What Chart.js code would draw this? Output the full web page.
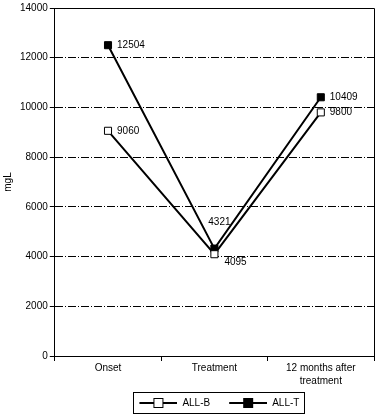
<!DOCTYPE html>
<html>
<head>
<meta charset="utf-8">
<script src="https://cdn.jsdelivr.net/npm/chart.js@4.4.1/dist/chart.umd.min.js"></script>
<style>
  html, body { margin: 0; padding: 0; background: #fff; }
  #wrap { width: 383px; height: 418px; }
</style>
</head>
<body>
<div id="wrap"><canvas id="chart"></canvas></div>
<script>
// data
var categories = ['Onset', 'Treatment', ['12 months after', 'treatment']];
var allB = [9060, 4095, 9800];
var allT = [12504, 4321, 10409];
var yMin = 0;
var yMax = 14000;
var yStep = 2000;

Chart.defaults.font.family = '"Liberation Sans", Arial, sans-serif';
Chart.defaults.font.size = 10;
Chart.defaults.color = '#000';

// little line + square picture for the legend (10px blank on the left as spacing)
var MARK_GAP = 10;
function legendMark(filled) {
  var c = document.createElement('canvas');
  c.width = 38 + MARK_GAP; c.height = 12;
  var g = c.getContext('2d');
  g.strokeStyle = '#000';
  g.lineWidth = 2;
  g.beginPath(); g.moveTo(MARK_GAP, 6); g.lineTo(MARK_GAP + 38, 6); g.stroke();
  g.fillStyle = filled ? '#000' : '#fff';
  g.fillRect(MARK_GAP + 14, 1, 10, 10);
  g.lineWidth = 1;
  g.strokeRect(MARK_GAP + 14.5, 1.5, 9, 9);
  return c;
}

// value labels next to points
var valueLabels = {
  id: 'valueLabels',
  afterDatasetsDraw: function(chart) {
    var ctx = chart.ctx;
    ctx.save();
    ctx.font = '10px "Liberation Sans", Arial, sans-serif';
    ctx.fillStyle = '#000';
    ctx.textBaseline = 'middle';
    chart.data.datasets.forEach(function(ds, i) {
      var meta = chart.getDatasetMeta(i);
      meta.data.forEach(function(pt, j) {
        var pos = ds.labelPos[j];
        var txt = String(ds.data[j]);
        if (pos === 'right') {
          ctx.textAlign = 'left';
          ctx.fillText(txt, pt.x + 9, pt.y);
        } else if (pos === 'belowRight') {
          ctx.textAlign = 'left';
          ctx.fillText(txt, pt.x + 10, pt.y + 8);
        } else if (pos === 'above') {
          ctx.textAlign = 'center';
          ctx.fillText(txt, pt.x + 5, pt.y - 26);
        }
      });
    });
    ctx.restore();
  }
};

// legend sits centred under the plot, not the whole canvas
var centerLegend = {
  id: 'centerLegend',
  afterLayout: function(chart) {
    var lg = chart.legend, a = chart.chartArea;
    var d = (a.left + a.right) / 2 - (lg.left + lg.right) / 2;
    lg.left += d;
    lg.right += d;
  }
};

// top/right frame and legend box
var frame = {
  id: 'frame',
  afterDraw: function(chart) {
    var a = chart.chartArea, ctx = chart.ctx;
    ctx.save();
    ctx.strokeStyle = '#000';
    ctx.lineWidth = 1;
    ctx.beginPath();
    ctx.moveTo(Math.round(a.left) + 0.5, Math.round(a.top) + 0.5);
    ctx.lineTo(Math.round(a.right) + 0.5, Math.round(a.top) + 0.5);
    ctx.lineTo(Math.round(a.right) + 0.5, Math.round(a.bottom) + 0.5);
    ctx.stroke();
    var boxes = chart.legend.legendHitBoxes;
    if (boxes && boxes.length) {
      var l = Math.min.apply(null, boxes.map(function(b) { return b.left; })) + MARK_GAP;
      var r = Math.max.apply(null, boxes.map(function(b) { return b.left + b.width; }));
      var t = boxes[0].top;
      var h = boxes[0].height;
      ctx.strokeRect(Math.round(l) - 5.5, Math.round(t) - 5.5, Math.round(r - l) + 11, Math.round(h) + 11);
    }
    ctx.restore();
  }
};

new Chart(document.getElementById('chart'), {
  type: 'line',
  data: {
    labels: categories,
    datasets: [{
      label: 'ALL-B',
      data: allB,
      labelPos: ['right', 'belowRight', 'right'],
      borderColor: '#000',
      borderWidth: 2,
      pointStyle: 'rect',
      pointRadius: 5,
      pointBorderWidth: 1,
      pointBackgroundColor: '#fff',
      pointBorderColor: '#000',
      legendMark: legendMark(false)
    }, {
      label: 'ALL-T',
      data: allT,
      labelPos: ['right', 'above', 'right'],
      borderColor: '#000',
      borderWidth: 2,
      pointStyle: 'rect',
      pointRadius: 5,
      pointBorderWidth: 1,
      pointBackgroundColor: '#000',
      pointBorderColor: '#000',
      legendMark: legendMark(true)
    }]
  },
  options: {
    responsive: true,
    maintainAspectRatio: false,
    animation: false,
    layout: { padding: { top: 3, right: 9, left: 2, bottom: 0 } },
    scales: {
      x: {
        offset: true,
        grid: { display: true, drawOnChartArea: false, drawTicks: true, tickLength: 5, color: '#000', offset: true },
        border: { color: '#000', width: 1 },
        ticks: { color: '#000', padding: 1, maxRotation: 0, autoSkip: false, font: { lineHeight: 1.3 } }
      },
      y: {
        min: yMin,
        max: yMax,
        grid: { color: '#000', tickLength: 5, tickBorderDash: [] },
        border: { color: '#000', width: 1, dash: [8, 2, 1, 2] },
        ticks: {
          stepSize: yStep, color: '#000', padding: 2,
          callback: function(v) { return String(v); }
        },
        title: { display: true, text: 'mgL', color: '#000', padding: { top: 0, bottom: 4 } }
      }
    },
    plugins: {
      legend: {
        position: 'bottom',
        labels: {
          usePointStyle: true,
          pointStyleWidth: 38 + MARK_GAP,
          boxHeight: 12,
          padding: 9,
          color: '#000',
          generateLabels: function(chart) {
            return chart.data.datasets.map(function(ds, i) {
              return { text: ds.label, pointStyle: ds.legendMark, datasetIndex: i, fontColor: '#000', lineWidth: 0 };
            });
          }
        }
      },
      tooltip: { enabled: false }
    }
  },
  plugins: [valueLabels, centerLegend, frame]
});
</script>
</body>
</html>
